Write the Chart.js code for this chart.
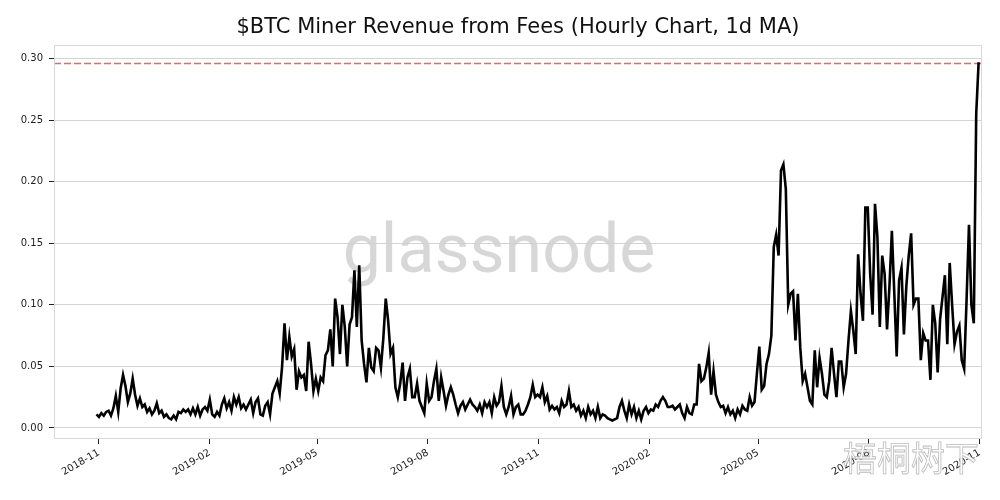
<!DOCTYPE html>
<html>
<head>
<meta charset="utf-8">
<script src="https://cdn.jsdelivr.net/npm/chart.js@4.4.1/dist/chart.umd.min.js"></script>
<style>
  html, body { margin: 0; padding: 0; background: #fff; }
  #wrap { width: 1000px; height: 500px; }
</style>
</head>
<body>
<div id="wrap"><canvas id="chart" width="1000" height="500"></canvas></div>
<script>
// series: 1d MA of miner fee revenue, one reading every 2 days from 2018-10-30
const startDate = Date.UTC(2018, 9, 30);
const stepDays = 2;
const feeRevenue = [
  0.011,0.009,0.012,0.010,0.013,0.014,0.010,0.016,0.026,0.013,
  0.032,0.043,0.034,0.021,0.028,0.040,0.027,0.018,0.024,0.017,
  0.019,0.013,0.016,0.011,0.014,0.020,0.012,0.014,0.009,0.011,
  0.008,0.007,0.010,0.007,0.013,0.012,0.015,0.013,0.015,0.011,
  0.016,0.011,0.017,0.010,0.015,0.017,0.014,0.023,0.011,0.009,
  0.013,0.010,0.019,0.024,0.016,0.021,0.014,0.025,0.019,0.025,
  0.016,0.019,0.015,0.019,0.023,0.012,0.021,0.024,0.011,0.010,
  0.018,0.021,0.011,0.028,0.033,0.038,0.028,0.050,0.085,0.055,
  0.074,0.058,0.064,0.031,0.046,0.041,0.043,0.030,0.070,0.052,
  0.030,0.040,0.030,0.041,0.038,0.059,0.063,0.080,0.050,0.105,
  0.090,0.060,0.100,0.082,0.050,0.084,0.090,0.128,0.082,0.132,
  0.071,0.052,0.037,0.065,0.049,0.046,0.065,0.063,0.049,0.073,
  0.105,0.087,0.060,0.065,0.033,0.025,0.036,0.053,0.022,0.041,
  0.048,0.025,0.025,0.036,0.022,0.017,0.012,0.036,0.022,0.025,
  0.038,0.048,0.022,0.041,0.030,0.018,0.027,0.033,0.027,0.019,
  0.012,0.018,0.021,0.015,0.019,0.023,0.019,0.017,0.014,0.019,
  0.012,0.021,0.017,0.021,0.012,0.025,0.018,0.021,0.034,0.017,
  0.011,0.017,0.026,0.011,0.017,0.019,0.011,0.011,0.014,0.019,
  0.025,0.035,0.025,0.027,0.025,0.033,0.021,0.026,0.015,0.018,
  0.015,0.017,0.012,0.022,0.017,0.019,0.030,0.017,0.019,0.014,
  0.017,0.010,0.014,0.008,0.017,0.011,0.014,0.008,0.017,0.008,
  0.011,0.010,0.008,0.007,0.006,0.007,0.008,0.017,0.022,0.014,
  0.008,0.019,0.011,0.017,0.008,0.014,0.007,0.014,0.017,0.012,
  0.015,0.014,0.019,0.017,0.022,0.025,0.022,0.017,0.017,0.018,
  0.015,0.017,0.019,0.012,0.008,0.017,0.012,0.011,0.019,0.019,
  0.052,0.038,0.040,0.049,0.061,0.027,0.046,0.027,0.021,0.017,
  0.018,0.012,0.017,0.011,0.014,0.008,0.015,0.011,0.018,0.015,
  0.014,0.025,0.018,0.021,0.044,0.066,0.031,0.034,0.052,0.060,
  0.075,0.147,0.157,0.140,0.209,0.214,0.194,0.100,0.109,0.111,
  0.071,0.109,0.065,0.038,0.044,0.033,0.022,0.019,0.063,0.033,
  0.057,0.044,0.027,0.025,0.038,0.065,0.044,0.025,0.054,0.054,
  0.033,0.044,0.071,0.095,0.079,0.060,0.141,0.109,0.087,0.179,
  0.179,0.125,0.092,0.182,0.155,0.082,0.140,0.125,0.080,0.115,
  0.160,0.110,0.058,0.120,0.130,0.076,0.115,0.140,0.158,0.100,
  0.105,0.105,0.055,0.077,0.071,0.071,0.039,0.100,0.085,0.045,
  0.088,0.106,0.124,0.068,0.134,0.100,0.068,0.078,0.083,0.055,
  0.048,0.104,0.165,0.100,0.085,0.255,0.297
];
const athLevel = 0.296;   // dashed red line
const xTickLabels = ['2018-11', '2019-02', '2019-05', '2019-08', '2019-11', '2020-02', '2020-05', '2020-08', '2020-11'];
const yTickValues = [0.00, 0.05, 0.10, 0.15, 0.20, 0.25, 0.30];

const DAY = 86400000;
const xTickDates = xTickLabels.map(s => Date.UTC(+s.slice(0, 4), +s.slice(5) - 1, 1));
const points = feeRevenue.map((v, i) => ({ x: startDate + i * stepDays * DAY, y: v }));
const xMin = xTickDates[0] - 37.3 * DAY;
const xMax = xTickDates[0] + 732.8 * DAY;

const tickFont = { family: 'DejaVu Sans', size: 10 };

// grey frame + watermarks
const decor = {
  id: 'decor',
  beforeDatasetsDraw(chart) {
    const { ctx, chartArea: a } = chart;
    ctx.save();
    ctx.font = '68px Roboto';
    ctx.fillStyle = 'rgba(208,208,208,0.85)';
    ctx.textAlign = 'center';
    ctx.textBaseline = 'alphabetic';
    ctx.fillText('glassnode', (a.left + a.right) / 2 - 19, 272);
    ctx.restore();
  },
  afterDraw(chart) {
    const { ctx, chartArea: a } = chart;
    ctx.save();
    ctx.strokeStyle = '#d9d9d9';
    ctx.lineWidth = 1;
    ctx.strokeRect(a.left + 0.5, a.top + 0.5, a.right - a.left - 1, a.bottom - a.top - 1);
    ctx.font = '34px "Noto Sans CJK SC"';
    ctx.textAlign = 'center';
    ctx.textBaseline = 'middle';
    ctx.lineWidth = 0.8;
    ctx.fillStyle = 'rgba(255,255,255,0.9)';
    ctx.strokeStyle = 'rgba(175,175,175,0.85)';
    ctx.fillText('梧桐树下', 911, 458);
    ctx.strokeText('梧桐树下', 911, 458);
    ctx.restore();
  }
};

new Chart(document.getElementById('chart'), {
  type: 'line',
  data: {
    datasets: [
      {
        label: 'fees',
        data: points,
        borderColor: '#000',
        borderWidth: 2.6,
        pointRadius: 0,
        tension: 0,
        fill: false
      },
      {
        label: 'ath',
        data: [{ x: xMin, y: athLevel }, { x: xMax, y: athLevel }],
        borderColor: 'rgba(220,80,80,0.85)',
        borderWidth: 1.4,
        borderDash: [7, 3],
        pointRadius: 0,
        fill: false
      }
    ]
  },
  options: {
    responsive: false,
    animation: false,
    layout: { padding: { left: 0, right: 18, top: 0, bottom: 0 } },
    plugins: {
      legend: { display: false },
      tooltip: { enabled: false },
      title: {
        display: true,
        fullSize: false,
        text: '$BTC Miner Revenue from Fees (Hourly Chart, 1d MA)',
        color: '#111',
        font: { family: 'DejaVu Sans', size: 21, weight: 'normal', lineHeight: 1.2 },
        padding: { top: 15, bottom: 4.8 }
      }
    },
    scales: {
      x: {
        type: 'linear',
        min: xMin,
        max: xMax,
        afterBuildTicks: s => { s.ticks = xTickDates.map(v => ({ value: v })); },
        afterFit: s => { s.height = 61; s.paddingLeft = 0; s.paddingRight = 0; },
        border: { display: false },
        grid: { drawOnChartArea: false, drawTicks: true, tickLength: 5, tickColor: '#222', tickWidth: 1 },
        ticks: {
          autoSkip: false,
          minRotation: 30,
          maxRotation: 30,
          padding: 3,
          color: '#222',
          font: tickFont,
          callback: v => xTickLabels[xTickDates.indexOf(v)]
        }
      },
      y: {
        min: -0.009,
        max: 0.311,
        afterBuildTicks: s => { s.ticks = yTickValues.map(v => ({ value: v })); },
        afterFit: s => { s.width = 54; s.paddingTop = 0; s.paddingBottom = 0; },
        border: { display: false },
        grid: { color: '#d4d4d4', lineWidth: 1, drawTicks: true, tickLength: 5, tickColor: '#222', tickWidth: 1 },
        ticks: {
          padding: 6,
          color: '#222',
          font: tickFont,
          callback: v => v.toFixed(2)
        }
      }
    }
  },
  plugins: [decor]
});
</script>
</body>
</html>
